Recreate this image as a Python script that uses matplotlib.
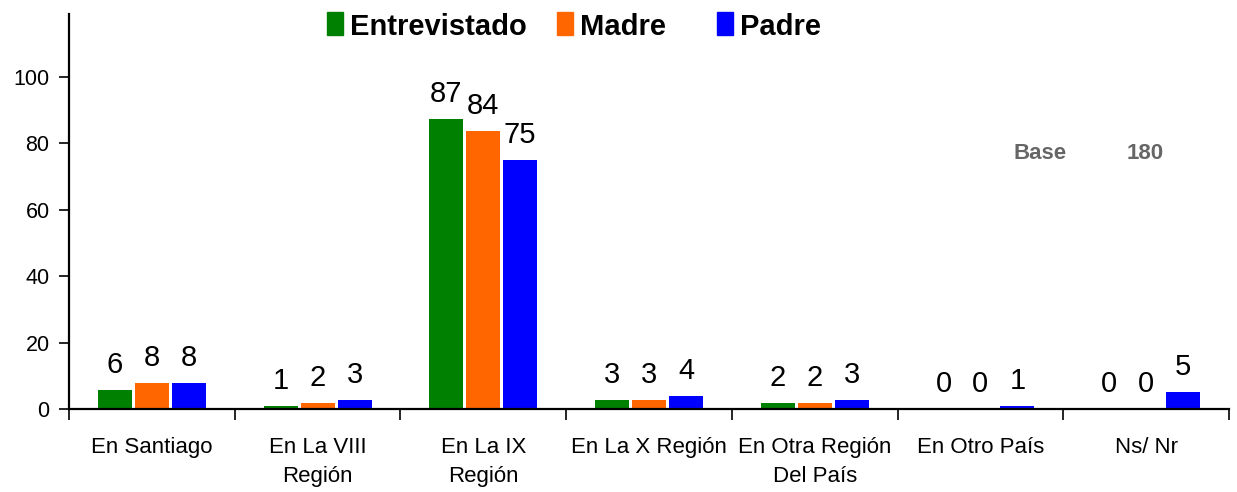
import matplotlib
matplotlib.use("Agg")
import matplotlib.pyplot as plt
from matplotlib.patches import Rectangle
import numpy as np

categories = ["En Santiago", "En La VIII\nRegión", "En La IX\nRegión", "En La X Región",
              "En Otra Región\nDel País", "En Otro País", "Ns/ Nr"]
series_names = ["Entrevistado", "Madre", "Padre"]
entrevistado = [5.6, 0.9, 87.3, 2.7, 1.7, 0.0, 0.0]
madre = [7.8, 1.7, 83.7, 2.7, 1.7, 0.0, 0.0]
padre = [7.8, 2.7, 75.0, 3.9, 2.7, 0.9, 5.1]
colors = ["#008000", "#FF6600", "#0000FF"]
yticks = [0, 20, 40, 60, 80, 100]
base_label = "Base"
base_value = "180"

plt.rcParams["font.family"] = ["Liberation Sans", "DejaVu Sans"]

W, H = 1237, 492
fig = plt.figure(figsize=(W / 100, H / 100), dpi=100)
ax = fig.add_axes([69 / W, 83 / H, 1160 / W, 395 / H])

x = np.arange(len(categories))
width = 0.205
step = 0.223
for i, (vals, c, name) in enumerate(zip([entrevistado, madre, padre], colors, series_names)):
    bars = ax.bar(x + (i - 1) * step, vals, width, color=c, label=name, zorder=2)
    for b, v in zip(bars, vals):
        ax.annotate(f"{v:.0f}", (b.get_x() + b.get_width() / 2, b.get_height()),
                    xytext=(0, 8), textcoords="offset points", ha="center", va="bottom",
                    fontsize=21)

ax.set_xlim(-0.5, len(categories) - 0.5)
ax.set_ylim(0, 119)
ax.set_yticks(yticks)
ax.tick_params(axis="y", labelsize=15.5, length=7, width=1.2, pad=7, direction="out")
ax.set_xticks(x)
ax.set_xticklabels(categories, fontsize=16, linespacing=1.5)
ax.set_xticks(np.arange(len(categories) + 1) - 0.5, minor=True)
ax.tick_params(axis="x", which="major", length=0, pad=20)
ax.tick_params(axis="x", which="minor", length=8, width=1.2, direction="out")
for s in ["top", "right"]:
    ax.spines[s].set_visible(False)
for s in ["left", "bottom"]:
    ax.spines[s].set_linewidth(1.6)
    ax.spines[s].set_color("black")

ax.text(0.837, 0.648, base_label, transform=ax.transAxes, ha="center", va="center",
        fontsize=16, color="#666666", fontweight="bold")
ax.text(0.928, 0.648, base_value, transform=ax.transAxes, ha="center", va="center",
        fontsize=16, color="#666666", fontweight="bold")

# legend drawn at the top, as in the reference
legend_square_x = [327, 557, 717]
for sx, c, name in zip(legend_square_x, colors, series_names):
    fig.patches.append(Rectangle((sx / W, 1 - 35 / H), 16 / W, 23 / H,
                                 transform=fig.transFigure, color=c, figure=fig))
    fig.text((sx + 23) / W, 1 - 35 / H, name, ha="left", va="baseline",
             fontsize=21, fontweight="bold")

fig.savefig("out.png", dpi=100)
